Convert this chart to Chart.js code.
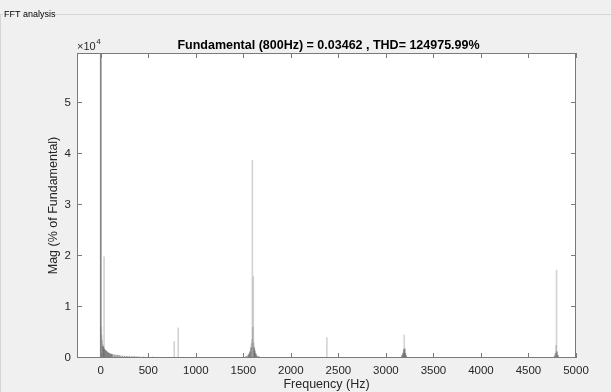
<!DOCTYPE html>
<html>
<head>
<meta charset="utf-8">
<script src="https://cdn.jsdelivr.net/npm/chart.js@4.4.1/dist/chart.umd.min.js"></script>
<style>
  html, body { margin: 0; padding: 0; background: #f0f0f0; }
  #wrap { position: relative; width: 611px; height: 392px; }
</style>
</head>
<body>
<div id="wrap"><canvas id="fft" width="611" height="392"></canvas></div>
<script>
"use strict";

// spectrum (Hz, % of fundamental)
const freqs = [
    0, 5, 10, 15, 20, 25, 30, 35, 40, 50, 60, 70, 80, 90, 100, 110, 120, 140, 160, 180,
    200, 225, 250, 275, 300, 325, 350, 375, 400, 450, 500, 550, 600, 700,
    773, 815,
    1530, 1550, 1560, 1570, 1580, 1585, 1590, 1595, 1600, 1605, 1610, 1615, 1620, 1630, 1640, 1660,
    2379,
    3170, 3180, 3188, 3193, 3198, 3205, 3215,
    4775, 4785, 4790, 4795, 4800, 4810
];
const mags = [
    59700, 6000, 4500, 3500, 2700, 2300, 2000, 19800, 1700, 1500, 1300, 1150, 1000, 900, 800, 750, 700, 620, 560, 500,
    450, 400, 360, 330, 300, 280, 260, 240, 220, 200, 180, 160, 150, 130,
    3200, 5900,
    300, 500, 800, 1200, 2000, 2800, 3600, 38700, 6000, 15900, 3000, 2000, 1400, 900, 500, 300,
    4000,
    500, 900, 1600, 4500, 1800, 900, 400,
    400, 900, 2500, 17200, 1200, 500
];

const xTicks = [0, 500, 1000, 1500, 2000, 2500, 3000, 3500, 4000, 4500, 5000];
const yTicks = [0, 1, 2, 3, 4, 5];   // x 10^4
const xRange = [-250, 5000];
const yMax = 59700;

const chartTitle = "Fundamental (800Hz) = 0.03462 , THD= 124975.99%";
const xTitle = "Frequency (Hz)";
const yTitle = "Mag (% of Fundamental)";
const panelTitle = "FFT analysis";

const FONT = "'Liberation Sans', Arial, Helvetica, sans-serif";

// thin isolated spikes look pale in the screenshot, the dense base looks darker
function barColor(c) {
    const v = c.raw ? c.raw.y : 0;
    if (v > 50000) return 'rgba(90,90,90,0.75)';
    if (v >= 2500) return 'rgba(120,120,120,0.32)';
    return 'rgba(90,90,90,0.6)';
}

// panel, white axes background, box, inward ticks and the texts
const matlabFrame = {
    id: 'matlabFrame',
    beforeDraw(chart) {
        const ctx = chart.ctx;
        const a = chart.chartArea;
        ctx.save();
        ctx.fillStyle = '#f0f0f0';
        ctx.fillRect(0, 0, chart.width, chart.height);

        // uipanel border
        ctx.strokeStyle = '#d5d5d5';
        ctx.lineWidth = 1;
        ctx.beginPath();
        ctx.moveTo(55, 14.5); ctx.lineTo(chart.width, 14.5);
        ctx.moveTo(0, 14.5); ctx.lineTo(3, 14.5);
        ctx.moveTo(0.5, 14.5); ctx.lineTo(0.5, chart.height);
        ctx.stroke();
        ctx.fillStyle = '#000';
        ctx.font = "9px " + FONT;
        ctx.textBaseline = 'middle';
        ctx.textAlign = 'left';
        ctx.fillText(panelTitle, 4, 14.5);

        ctx.fillStyle = '#ffffff';
        ctx.fillRect(a.left, a.top, a.right - a.left, a.bottom - a.top);
        ctx.restore();
    },
    afterDraw(chart) {
        const ctx = chart.ctx;
        const a = chart.chartArea;
        const xs = chart.scales.x, ys = chart.scales.y;
        const tl = 5;
        ctx.save();
        ctx.strokeStyle = '#7a7a7a';
        ctx.lineWidth = 1;
        ctx.strokeRect(a.left + 0.5, a.top + 0.5, a.right - a.left - 1, a.bottom - a.top - 1);

        ctx.beginPath();
        xTicks.forEach(function(v) {
            const px = Math.round(xs.getPixelForValue(v)) + 0.5;
            ctx.moveTo(px, a.bottom); ctx.lineTo(px, a.bottom - tl);
            ctx.moveTo(px, a.top); ctx.lineTo(px, a.top + tl);
        });
        yTicks.forEach(function(v) {
            const py = Math.round(ys.getPixelForValue(v * 1e4)) - 0.5;
            ctx.moveTo(a.left, py); ctx.lineTo(a.left + tl, py);
            ctx.moveTo(a.right, py); ctx.lineTo(a.right - tl, py);
        });
        ctx.stroke();

        ctx.fillStyle = '#000';
        ctx.font = "bold 12.5px " + FONT;
        ctx.textAlign = 'center';
        ctx.textBaseline = 'alphabetic';
        ctx.fillText(chartTitle, (a.left + a.right) / 2 + 2, a.top - 4);

        ctx.fillStyle = '#262626';
        ctx.font = "11px " + FONT;
        ctx.textAlign = 'left';
        ctx.fillText("\u00d710", a.left, a.top - 3);
        const w = ctx.measureText("\u00d710").width;
        ctx.font = "8px " + FONT;
        ctx.fillText("4", a.left + w + 0.5, a.top - 9);

        ctx.font = "12.5px " + FONT;
        ctx.textAlign = 'center';
        ctx.textBaseline = 'middle';
        ctx.fillText(xTitle, (a.left + a.right) / 2, 385);
        ctx.translate(54, (a.top + a.bottom) / 2);
        ctx.rotate(-Math.PI / 2);
        ctx.fillText(yTitle, 0, 0);
        ctx.restore();
    }
};

window.onload = function() {
    const ctx = document.getElementById('fft').getContext('2d');
    const points = freqs.map(function(f, i) { return { x: f, y: mags[i] }; });

    const chart = new Chart(ctx, {
        type: 'bar',
        data: {
            datasets: [{
                label: 'FFT',
                data: points,
                backgroundColor: barColor,
                borderWidth: 0,
                barThickness: 1
            }]
        },
        options: {
            responsive: false,
            animation: false,
            devicePixelRatio: 1,
            layout: { padding: { top: 53, right: 35, left: 0, bottom: 0 } },
            plugins: {
                legend: { display: false },
                tooltip: { enabled: false },
                title: { display: false }
            },
            scales: {
                x: {
                    type: 'linear',
                    offset: false,
                    min: xRange[0],
                    max: xRange[1],
                    grid: { display: false, drawTicks: false, offset: false },
                    border: { display: false },
                    ticks: {
                        autoSkip: false,
                        maxRotation: 0,
                        padding: 6,
                        color: '#262626',
                        font: { family: FONT, size: 11.5 },
                        callback: function(v) { return String(v); }
                    },
                    afterBuildTicks(scale) {
                        scale.ticks = xTicks.map(function(v) { return { value: v }; });
                    },
                    afterFit(scale) { scale.height = 34; }
                },
                y: {
                    min: 0,
                    max: yMax,
                    grid: { display: false, drawTicks: false },
                    border: { display: false },
                    ticks: {
                        padding: 6,
                        color: '#262626',
                        font: { family: FONT, size: 11.5 },
                        callback: function(v) { return String(Math.round(v / 1e4)); }
                    },
                    afterBuildTicks(scale) {
                        scale.ticks = yTicks.map(function(v) { return { value: v * 1e4 }; });
                    },
                    afterFit(scale) { scale.width = 77; }
                }
            }
        },
        plugins: [matlabFrame]
    });

    window.mychart = chart; // for debug
};
</script>
</body>
</html>
